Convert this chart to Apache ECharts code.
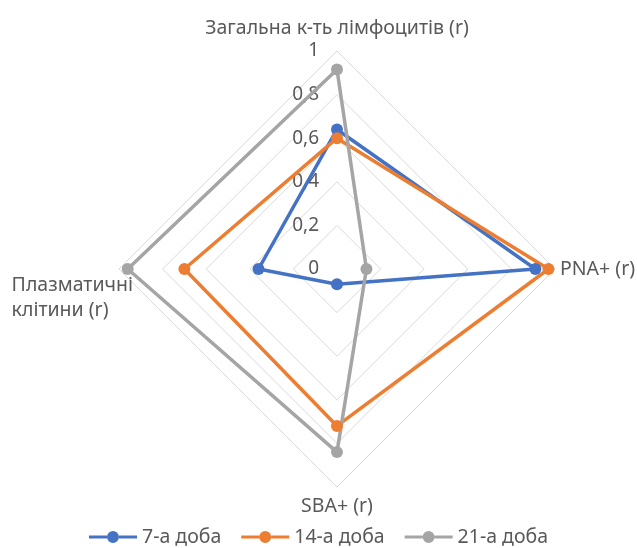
<!DOCTYPE html>
<html>
<head>
<meta charset="utf-8">
<script src="https://cdn.jsdelivr.net/npm/echarts@6/dist/echarts.min.js"></script>
<style>
  html, body { margin: 0; padding: 0; background: #fff; }
  #chart { width: 637px; height: 548px; }
</style>
</head>
<body>
<div id="chart"></div>
<script>
// Radar axes in ECharts order (counter-clockwise from the top):
// top, left, bottom, right
const indicators = [
  'Загальна к-ть лімфоцитів (r)',
  'Плазматичні\nклітини (r)',
  'SBA+ (r)',
  'PNA+ (r)'
];
const seriesNames = ['7-а доба', '14-а доба', '21-а доба'];
const day7 = [0.64, 0.36, 0.07, 0.91];
const day14 = [0.60, 0.70, 0.72, 0.97];
const day21 = [0.915, 0.96, 0.84, 0.135];
const colors = ['#4472C4', '#ED7D31', '#A5A5A5'];

const textColor = '#595959';
const font = 'Noto Sans';
const fs = 19.5;

// rich style key for each indicator name
const nameStyles = ['t', 'l', 'b', 'r'];

// legend icon: a short line with a round marker in the middle
const legendIcon = 'path://M0,9.5H18V12.5H0Z M30,9.5H48V12.5H30Z M18,11a6,6 0 1,0 12,0a6,6 0 1,0 -12,0Z';

const chart = echarts.init(document.getElementById('chart'));
chart.setOption({
  animation: false,
  color: colors,
  legend: {
    data: seriesNames,
    bottom: -4,
    left: 'center',
    icon: legendIcon,
    itemWidth: 48,
    itemHeight: 22,
    itemGap: 20,
    textStyle: { color: textColor, fontSize: fs, fontFamily: font }
  },
  radar: {
    center: [337, 269],
    radius: 218,
    startAngle: 90,
    shape: 'polygon',
    splitNumber: 5,
    nameGap: 5,
    axisName: {
      color: textColor,
      fontFamily: font,
      fontSize: fs,
      formatter: function (value, ind) {
        const k = nameStyles[indicators.indexOf(ind.name)];
        const lines = value.split('\n').map(s => '{' + k + '|' + s + '}');
        // the two-line name on the left sits below its vertex
        if (k === 'l') lines.unshift('{sp|}');
        return lines.join('\n');
      },
      rich: {
        t: { color: textColor, fontFamily: font, fontSize: fs, padding: [0, 0, 8, 0] },
        r: { color: textColor, fontFamily: font, fontSize: fs },
        b: { color: textColor, fontFamily: font, fontSize: fs, padding: [4, 0, 0, 0] },
        l: { color: textColor, fontFamily: font, fontSize: fs, lineHeight: 25, align: 'left', padding: [0, -19, 0, 0] },
        sp: { height: 58, lineHeight: 58 }
      }
    },
    axisLine: { show: false },
    axisTick: { show: false },
    splitArea: { show: false },
    splitLine: { lineStyle: { color: '#D9D9D9', width: 1 } },
    axisLabel: { show: false },
    indicator: indicators.map((n, i) => {
      const o = { name: n, min: 0, max: 1 };
      if (i === 0) {
        o.axisLabel = {
          show: true,
          color: textColor,
          fontFamily: font,
          fontSize: 19,
          margin: 18,
          showMinLabel: true,
          formatter: v => String(+v.toFixed(1)).replace('.', ',')
        };
      }
      return o;
    })
  },
  series: [{
    type: 'radar',
    symbol: 'circle',
    symbolSize: 12,
    lineStyle: { width: 3.5 },
    data: [
      { name: seriesNames[0], value: day7 },
      { name: seriesNames[1], value: day14 },
      { name: seriesNames[2], value: day21 }
    ]
  }]
});
</script>
</body>
</html>
